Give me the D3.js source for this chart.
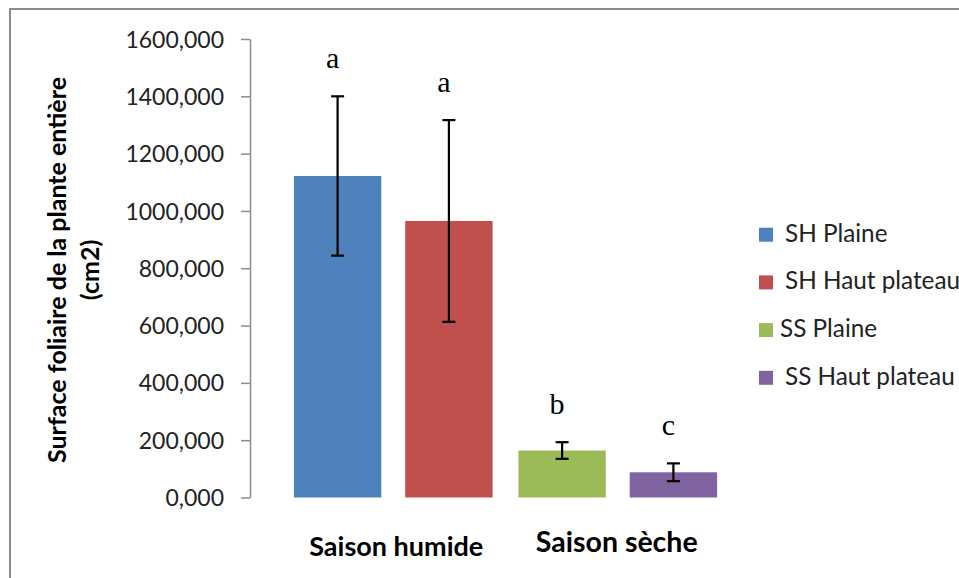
<!DOCTYPE html>
<html>
<head>
<meta charset="utf-8">
<script src="https://cdn.jsdelivr.net/npm/d3@7"></script>
<style>
  html, body { margin: 0; padding: 0; background: #fff; }
  svg { display: block; }
</style>
</head>
<body>
<svg id="chart" width="959" height="578"></svg>
<script>
// Leaf area of the whole plant by season and zone
const seasons = ["Saison humide", "Saison sèche"];
const seriesNames = ["SH Plaine", "SH Haut plateau", "SS Plaine", "SS Haut plateau"];
const seriesSeason = ["Saison humide", "Saison humide", "Saison sèche", "Saison sèche"];
const seriesValues = [1122, 965, 164, 88];
const seriesErrors = [278, 352, 29, 31];
const seriesLetters = ["a", "a", "b", "c"];
const seriesColors = ["#4F81BD", "#C0504D", "#9BBB59", "#8064A2"];
const yTicks = [0, 200, 400, 600, 800, 1000, 1200, 1400, 1600];

const svg = d3.select("#chart");
const font = "Lato, 'Open Sans', sans-serif";

// outer frame
svg.append("rect")
  .attr("x", 10).attr("y", 9).attr("width", 1000).attr("height", 700)
  .attr("fill", "none").attr("stroke", "#8c8c8c").attr("stroke-width", 2);

const y = d3.scaleLinear().domain([0, 1600]).range([497.5, 39]);
const x0 = d3.scaleBand().domain(seasons).range([281, 730]).paddingInner(0).paddingOuter(0);
const x1 = d3.scaleBand().domain([0, 1]).range([0, x0.bandwidth()]).paddingInner(0.215).paddingOuter(0.116);

const data = seriesNames.map((name, i) => ({
  name, season: seriesSeason[i], value: seriesValues[i], err: seriesErrors[i],
  letter: seriesLetters[i], color: seriesColors[i], idx: seriesSeason.slice(0, i).filter(s => s === seriesSeason[i]).length
}));

// y axis
const yAxis = d3.axisLeft(y).tickValues(yTicks).tickSize(9).tickSizeOuter(0)
  .tickFormat(d => d3.format(",.3f")(d).replace(/,/g, "").replace(".", ","));
const gy = svg.append("g").attr("transform", "translate(250,0)").call(yAxis);
gy.select(".domain").attr("stroke", "#8c8c8c").attr("stroke-width", 1.5);
gy.selectAll(".tick line").attr("stroke", "#8c8c8c").attr("stroke-width", 1.5);
gy.selectAll(".tick text").attr("x", -26).attr("dy", "0.35em")
  .attr("font-family", font).attr("font-size", 23).attr("fill", "#222");

// bars
const bx = d => x0(d.season) + x1(d.idx);
svg.append("g").selectAll("rect").data(data).join("rect")
  .attr("x", bx).attr("width", x1.bandwidth())
  .attr("y", d => y(d.value)).attr("height", d => y(0) - y(d.value))
  .attr("fill", d => d.color);

// error bars
const eg = svg.append("g").attr("stroke", "#000").attr("stroke-width", 2.2);
data.forEach(d => {
  const cx = bx(d) + x1.bandwidth() / 2;
  eg.append("line").attr("x1", cx).attr("x2", cx).attr("y1", y(d.value + d.err)).attr("y2", y(d.value - d.err));
  [d.value + d.err, d.value - d.err].forEach(v => {
    eg.append("line").attr("x1", cx - 6.5).attr("x2", cx + 6.5).attr("y1", y(v)).attr("y2", y(v));
  });
});

// significance letters
svg.append("g").selectAll("text").data(data).join("text")
  .attr("x", d => bx(d) + x1.bandwidth() / 2 - 5)
  .attr("y", d => y(d.value + d.err) - 28)
  .attr("text-anchor", "middle")
  .attr("font-family", "'Liberation Serif', 'Times New Roman', serif")
  .attr("font-size", 30).attr("fill", "#000")
  .text(d => d.letter);

// category labels
svg.append("g").selectAll("text").data(seasons).join("text")
  .attr("x", (d, i) => x0(d) + x0.bandwidth() / 2 + (i === 0 ? 3 : -1))
  .attr("y", (d, i) => i === 0 ? 556 : 552)
  .attr("text-anchor", "middle")
  .attr("font-family", font).attr("font-weight", "bold")
  .attr("font-size", (d, i) => i === 0 ? 27 : 28.5).attr("fill", "#000")
  .text(d => d);

// y axis title
const yt = svg.append("text")
  .attr("transform", "translate(0,270) rotate(-90)")
  .attr("text-anchor", "middle")
  .attr("font-family", font).attr("font-weight", "bold")
  .attr("font-size", 25).attr("fill", "#000");
yt.append("tspan").attr("x", 0).attr("y", 66).text("Surface foliaire de la plante entière");
yt.append("tspan").attr("x", 0).attr("y", 99).text("(cm2)");

// legend
const lg = svg.append("g").selectAll("g").data(data).join("g")
  .attr("transform", (d, i) => `translate(759,${227.7 + i * 47.7})`);
lg.append("rect").attr("width", 14).attr("height", 14).attr("fill", d => d.color);
lg.append("text")
  .attr("x", (d, i) => i === 2 ? 21 : 26).attr("y", 14)
  .attr("font-family", font).attr("font-size", 24.3).attr("fill", "#222")
  .text(d => d.name);
</script>
</body>
</html>
